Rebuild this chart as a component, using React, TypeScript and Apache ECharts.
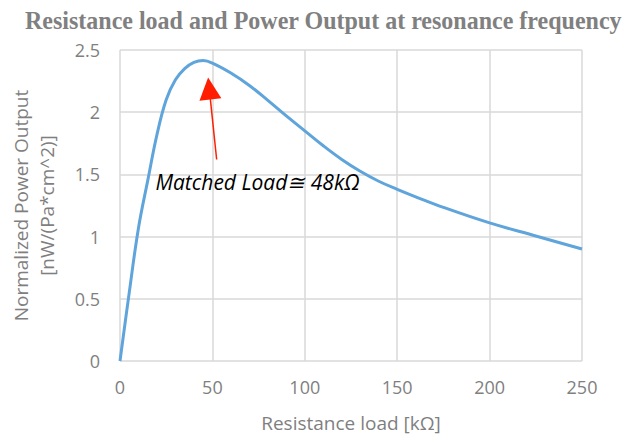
import React, { useEffect, useRef } from "react";
import * as echarts from "echarts";

const resistance = [0, 5, 10, 15, 20, 25, 30, 35, 40, 45, 50, 60, 70, 80, 90, 100, 110, 120, 130, 140, 150, 160, 175, 200, 225, 250];
const power = [0, 0.55, 1.07, 1.45, 1.82, 2.1, 2.26, 2.35, 2.4, 2.415, 2.395, 2.315, 2.215, 2.095, 1.97, 1.85, 1.73, 1.62, 1.525, 1.445, 1.38, 1.32, 1.235, 1.11, 1.005, 0.9];

const titleText = "Resistance load and Power Output at resonance frequency";
const xName = "Resistance load [kΩ]";
const yName = "Normalized Power Output\n[nW/(Pa*cm^2)]";
const annotationText = "Matched Load≅ 48kΩ";
const arrowFrom = [52.3, 1.62];
const arrowTo = [48.3, 2.19];
const annotationAt = [74.4, 1.437];

export default function App() {
  const ref = useRef<HTMLDivElement>(null);
  useEffect(() => {
    if (!ref.current) return;
    const chart = echarts.init(ref.current, undefined, { renderer: "svg" });
    const gray = "#7f7f7f";
    const font = "Open Sans";
    chart.setOption({
      animation: false,
      backgroundColor: "#ffffff",
      graphic: [
        {
          type: "text",
          x: 25,
          y: 8,
          scaleX: 0.96,
          style: {
            text: titleText,
            font: 'bold 25px "Liberation Serif"',
            fill: "#808080",
          },
        },
      ],
      grid: { left: 113, right: 43, top: 50, bottom: 75 },
      xAxis: {
        type: "value",
        min: 0,
        max: 250,
        interval: 50,
        name: xName,
        nameLocation: "middle",
        nameGap: 52,
        nameTextStyle: { color: gray, fontSize: 19, fontFamily: font },
        axisLine: { show: false },
        axisTick: { show: false },
        axisLabel: { color: gray, fontSize: 18, fontFamily: font, margin: 17 },
        splitLine: { show: true, lineStyle: { color: "#d9d9d9", width: 1.5 } },
      },
      yAxis: {
        type: "value",
        min: 0,
        max: 2.5,
        interval: 0.5,
        name: yName,
        nameLocation: "middle",
        nameRotate: 90,
        nameGap: 60,
        nameTextStyle: { color: gray, fontSize: 19, fontFamily: font, lineHeight: 26 },
        axisLine: { show: false },
        axisTick: { show: false },
        axisLabel: { color: gray, fontSize: 18, fontFamily: font, margin: 20 },
        splitLine: { show: true, lineStyle: { color: "#d9d9d9", width: 1.5 } },
      },
      series: [
        {
          type: "line",
          data: resistance.map((r, i) => [r, power[i]]),
          smooth: 0.4,
          showSymbol: false,
          lineStyle: { color: "#5fa4da", width: 3 },
          markLine: {
            silent: true,
            animation: false,
            symbol: ["none", "triangle"],
            symbolSize: [22, 22],
            lineStyle: { color: "#ff1f00", width: 1.5, type: "solid" },
            itemStyle: { color: "#ff1f00" },
            label: { show: false },
            data: [
              [
                { coord: arrowFrom, symbol: "none" },
                { coord: arrowTo, symbol: "triangle" },
              ],
            ],
          },
          markPoint: {
            silent: true,
            animation: false,
            symbol: "circle",
            symbolSize: 0,
            label: {
              show: true,
              position: "inside",
              formatter: annotationText,
              color: "#000000",
              fontSize: 21,
              fontStyle: "italic",
              fontFamily: font,
            },
            data: [{ coord: annotationAt }],
          },
        },
      ],
    });
    return () => chart.dispose();
  }, []);
  return (
    <div
      ref={ref}
      style={{ position: "fixed", left: 0, top: 0, width: 625, height: 437 }}
    />
  );
}
